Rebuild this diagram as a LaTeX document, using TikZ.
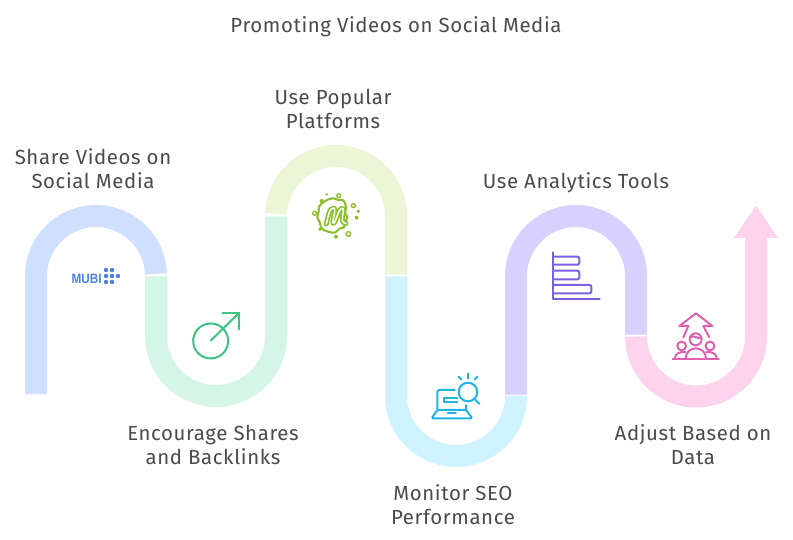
\documentclass[tikz,border=0pt]{standalone}
\usepackage{fontspec}
\setmainfont[LetterSpace=3]{Fira Sans}
\newfontfamily\mubifont{Liberation Sans}
\definecolor{txt}{HTML}{4A4A4A}
\definecolor{cA}{HTML}{CFE0FF}
\definecolor{cB}{HTML}{D5F6E6}
\definecolor{cC}{HTML}{EAF6D6}
\definecolor{cD}{HTML}{CFF3FE}
\definecolor{cE}{HTML}{D8D0FF}
\definecolor{cF}{HTML}{FDD3EE}
\definecolor{iA}{HTML}{4A80E4}
\definecolor{iB}{HTML}{3CC481}
\definecolor{iC}{HTML}{8CBF2E}
\definecolor{iD}{HTML}{1FB4E8}
\definecolor{iE}{HTML}{7B5FE0}
\definecolor{iF}{HTML}{E060B0}
\tikzset{
  band/.style={line width=22pt,line cap=butt,line join=miter},
  label/.style={text=txt,font=\fontsize{20.4}{24}\selectfont,align=center,inner sep=0pt},
  iconline/.style={line width=#1,line cap=round,line join=round},
  iconline/.default=2pt,
  zoomed/.style={x=0.3333pt,y=-0.3333pt}
}
\begin{document}
\begin{tikzpicture}[x=1pt,y=-1pt]
\useasboundingbox (0,0) rectangle (793,540);
% bands
\draw[band,cA] (36,394) -- (36,276) arc (180:2:60pt);
\draw[band,cB] (156,276.5) -- (156,336) arc (180:360:60pt) -- (276,216.5);
\draw[band,cC] (276.04,213.9) arc (178:0:60pt) -- (396,274.5);
\draw[band,cD] (396,276.5) -- (396,396) arc (180:360:60pt);
\draw[band,cE] (516,394.5) -- (516,276) arc (180:0:60pt) -- (636,334.5);
\draw[band,cF] (636,336.5) arc (180:360:60pt) -- (756,238);
\fill[cF] (734,238) -- (756,205.5) -- (778,238) -- cycle;
% labels
\node[label] (title) at (396,26.5) {Promoting Videos on Social Media};
\node[label] (share) at (93,168.5) {Share Videos on\\Social Media};
\node[label] (popular) at (333,108.5) {Use Popular\\Platforms};
\node[label] (encourage) at (213,444.5) {Encourage Shares\\and Backlinks};
\node[label] (monitor) at (453,504.5) {Monitor SEO\\Performance};
\node[label] (analytics) at (576,182.5) {Use Analytics Tools};
\node[label] (adjust) at (693,444.5) {Adjust Based on\\Data};
% MUBI icon
\node[text=iA,font=\mubifont\bfseries\fontsize{13.5}{14}\selectfont,inner sep=0pt,xscale=0.87] (mubi) at (86.7,278.7) {MUBI};
\foreach \p in {(106,270),(112,270),(106,276),(112,276),(118,276),(106,282),(112,282)}
  \fill[iA] \p circle (2.2pt);
% arrow icon
\begin{scope}[shift={(20,200)},zoomed]
\draw[iconline,iB] (572,422) -- (658,338);
\draw[iconline,iB] (607,338) -- (658,338) -- (658,388);
\end{scope}
\draw[iconline,iB] (215.5,324.1) arc (74:-288:17.5pt);
% meetup icon
\begin{scope}[shift={(260,140)},zoomed]
\draw[line width=2.1pt,iC,line join=round] plot[smooth cycle,tension=0.6] coordinates {
 (192,185)(205,178)(220,175)(235,180)(248,180)(255,190)(258,205)(255,218)(262,232)(256,245)(252,262)(238,266)(225,278)(208,276)(195,272)(183,262)(180,248)(172,232)(176,215)(177,200)(185,190)};
\draw[line width=5pt,iC,line cap=round,line join=round] (199,252) .. controls (205,230) and (206,206) .. (220,204) .. controls (232,203) and (214,248) .. (220,250) .. controls (228,250) and (234,205) .. (247,205) .. controls (258,207) and (234,250) .. (258,250);
\draw[line width=1.5pt,white,line cap=round,line join=round] (199,252) .. controls (205,230) and (206,206) .. (220,204) .. controls (232,203) and (214,248) .. (220,250) .. controls (228,250) and (234,205) .. (247,205) .. controls (258,207) and (234,250) .. (258,250);
\foreach \p/\r in {(200,163)/1.3pt,(185,183)/2pt,(290,233)/2pt,(228,290)/2pt}
  \fill[iC] \p circle (\r);
\foreach \p/\r in {(236,167)/2pt,(280,197)/2pt,(295,214)/1pt,(164,220)/2pt,(180,268)/1pt,(265,282)/2.4pt}
  \draw[iC,line width=1.3pt] \p circle (\r);
\end{scope}
% monitor icon
\begin{scope}[shift={(380,360)},zoomed]
\begin{scope}[iconline,iD]
\draw[rounded corners=1.5pt] (172,150) -- (172,90) -- (225,90);
\draw (258,135) -- (258,150);
\draw[rounded corners=1.2pt] (172,150) -- (258,150) -- (277,175) -- (155,175) -- cycle;
\draw (203,160) -- (228,160);
\draw (232,113) -- (192,113) -- (192,127) -- (232,127);
\draw (264,96) circle (9.3pt);
\draw (282,115) -- (298,132);
\draw (264,41) -- (264,56);
\draw (236,50) -- (244,58);
\draw (292,50) -- (284,58);
\end{scope}
\end{scope}
% chart icon
\begin{scope}[shift={(500,200)},zoomed]
\begin{scope}[iconline,iE]
\draw (159,157) -- (159,297) -- (299,297);
\draw[rounded corners=2pt] (159,170) -- (238,170) -- (238,194) -- (159,194);
\draw[rounded corners=2pt] (159,212) -- (238,212) -- (238,238) -- (159,238);
\draw[rounded corners=2pt] (159,255) -- (274,255) -- (274,280) -- (159,280);
\end{scope}
\end{scope}
% people icon
\begin{scope}[shift={(620,200)},zoomed]
\begin{scope}[iconline,iF]
\draw (190,412) -- (205,378) -- (178,378) -- (228,340) -- (277,378) -- (250,378) -- (268,412);
\draw (227,418) circle (6pt);
\draw (211,412) .. controls (222,402) and (235,420) .. (244,414);
\draw (185,438) circle (4.4pt);
\draw (270,438) circle (4.4pt);
\draw (158,476) -- (297,476);
\draw (197,476) .. controls (197,435) and (258,435) .. (258,476);
\draw (165,474) .. controls (166,460) and (180,455) .. (196,456);
\draw (290,474) .. controls (289,460) and (275,455) .. (259,456);
\end{scope}
\end{scope}
\end{tikzpicture}
\end{document}
